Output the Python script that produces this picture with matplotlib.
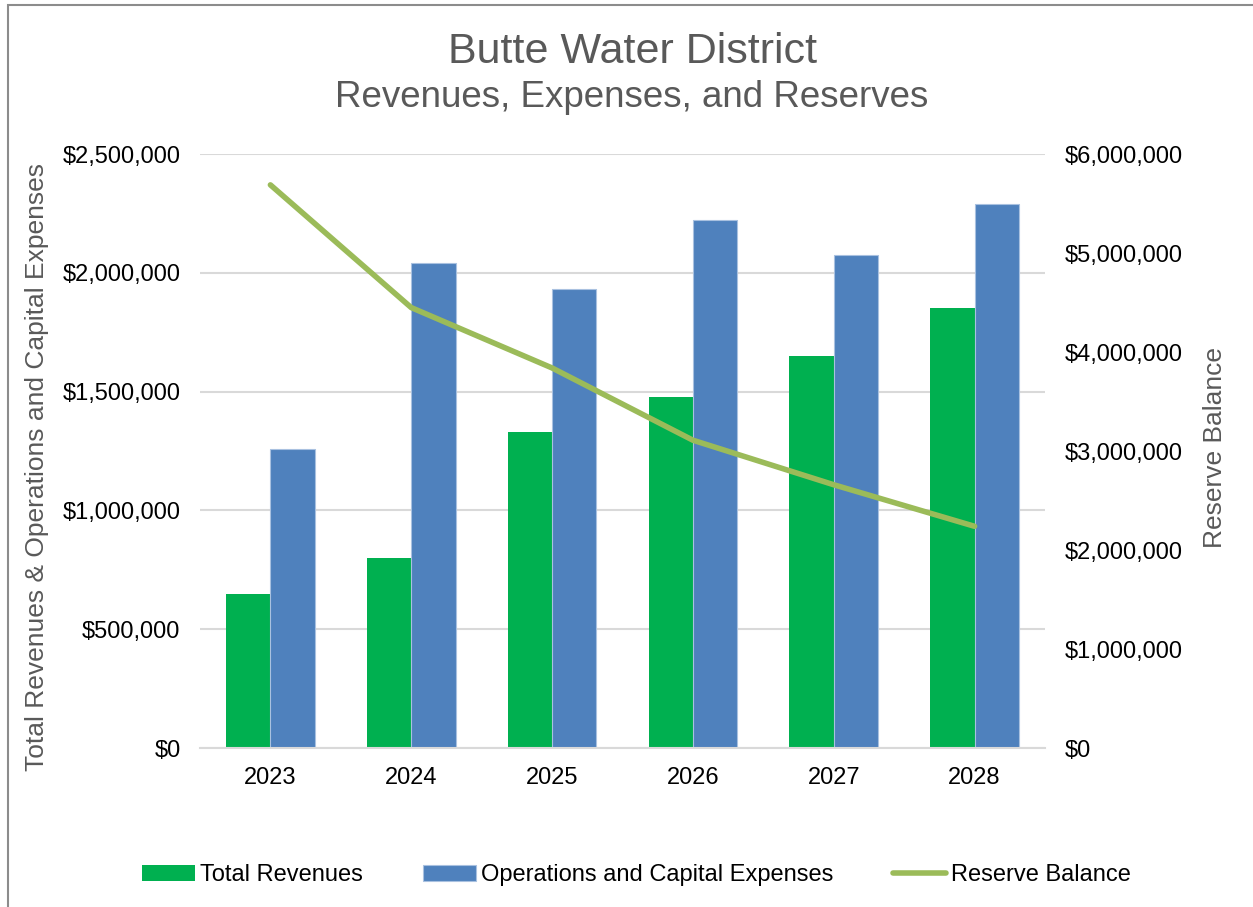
import matplotlib
matplotlib.use("Agg")
import matplotlib.pyplot as plt
from matplotlib.ticker import FuncFormatter
from matplotlib.patches import Rectangle
import numpy as np

plt.rcParams['font.family'] = ['Liberation Sans', 'DejaVu Sans']

years = ["2023", "2024", "2025", "2026", "2027", "2028"]
revenues = [650000, 800000, 1330000, 1477000, 1650000, 1852000]
expenses = [1260000, 2041000, 1932000, 2222000, 2075000, 2290000]
reserves = [5690000, 4450000, 3840000, 3110000, 2660000, 2240000]

green = "#00B050"
blue = "#4F81BD"
olive = "#9BBB59"
gray = "#595959"

fig = plt.figure(figsize=(12.53, 9.07), dpi=100)
ax = fig.add_axes([0.1596, 0.1753, 0.6744, 0.6547])
ax2 = ax.twinx()

x = np.arange(len(years))
w = 0.315
ax.bar(x - w / 2, revenues, w, color=green, label="Total Revenues", zorder=2)
ax.bar(x + w / 2, expenses, w, color=blue, edgecolor="#A9C1E0", linewidth=0.8,
       label="Operations and Capital Expenses", zorder=2)
ax2.plot(x, reserves, color=olive, linewidth=4, solid_capstyle="round",
         label="Reserve Balance")

ax.set_xlim(-0.5, len(years) - 0.5)
ax.set_ylim(0, 2500000)
ax2.set_ylim(0, 6000000)
ax.set_yticks(np.arange(0, 2500001, 500000))
ax2.set_yticks(np.arange(0, 6000001, 1000000))
money = FuncFormatter(lambda v, p: "${:,.0f}".format(v))
ax.yaxis.set_major_formatter(money)
ax2.yaxis.set_major_formatter(money)
ax.set_xticks(x)
ax.set_xticklabels(years)

ax.grid(axis="y", color="#D9D9D9", linewidth=1.5, zorder=0)
ax.set_axisbelow(True)
for a in (ax, ax2):
    for s in a.spines.values():
        s.set_visible(False)
    a.tick_params(length=0, labelsize=17, colors="black")
ax.spines["bottom"].set_visible(True)
ax.spines["bottom"].set_color("#D9D9D9")
ax.spines["bottom"].set_linewidth(1.5)
ax.tick_params(axis="y", pad=14)
ax.tick_params(axis="x", pad=14)
ax2.tick_params(axis="y", pad=14)

# axis titles placed by hand, like the original
fig.text(0.0295, 0.485, "Total Revenues & Operations and Capital Expenses",
         rotation=90, ha="center", va="center", fontsize=19, color=gray)
fig.text(0.9697, 0.507, "Reserve Balance", rotation=90, ha="center",
         va="center", fontsize=19, color=gray)

fig.text(0.5045, 0.943, "Butte Water District", ha="center", va="center",
         fontsize=31, color=gray)
fig.text(0.5045, 0.893, "Revenues, Expenses, and Reserves", ha="center",
         va="center", fontsize=26.5, color=gray)

h1, l1 = ax.get_legend_handles_labels()
h2, l2 = ax2.get_legend_handles_labels()
fig.legend(h1 + h2, l1 + l2, loc="center", bbox_to_anchor=(0.508, 0.035),
           ncol=3, frameon=False, fontsize=17, handlelength=2.25,
           handletextpad=0.2, columnspacing=2.55)

fig.patches.append(Rectangle((0.0065, -0.01), 1.1, 1.0045, transform=fig.transFigure,
                             fill=False, edgecolor="#8C8C8C", linewidth=1.5))

fig.savefig("out.png", dpi=100)
